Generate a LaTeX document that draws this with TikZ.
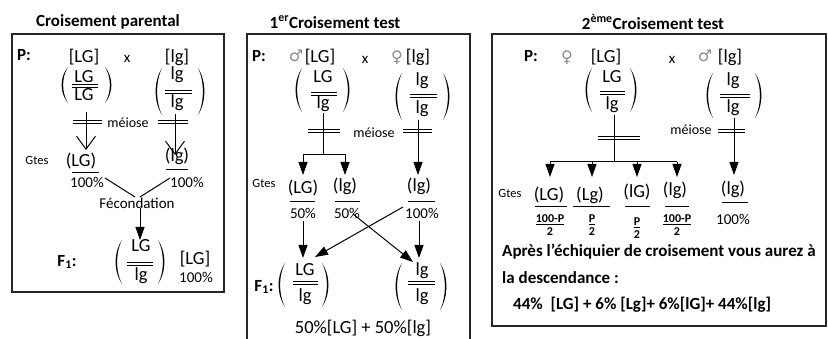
\documentclass[tikz,border=0pt]{standalone}
\usepackage{fontspec}
\setmainfont{Carlito}
\newfontfamily\symfont{DejaVu Sans}
\usetikzlibrary{arrows.meta}
\newcommand\mylp[3]{\fill (#1,#2) .. controls ({#1-8.5},{#2+(#3-#2)*0.28}) and ({#1-8.5},{#3-(#3-#2)*0.28}) .. (#1,#3) .. controls ({#1-6.5},{#3-(#3-#2)*0.28}) and ({#1-6.5},{#2+(#3-#2)*0.28}) .. (#1,#2) -- cycle;}
\newcommand\myrp[3]{\fill (#1,#2) .. controls ({#1+8.5},{#2+(#3-#2)*0.28}) and ({#1+8.5},{#3-(#3-#2)*0.28}) .. (#1,#3) .. controls ({#1+6.5},{#3-(#3-#2)*0.28}) and ({#1+6.5},{#2+(#3-#2)*0.28}) .. (#1,#2) -- cycle;}
\newcommand\dbar[3]{\draw[ln] (#1,#3) -- (#2,#3) (#1,{#3+3}) -- (#2,{#3+3});}
\newcommand\uline[3]{\draw[ln] (#1,#3) -- (#2,#3);}
\begin{document}
\begin{tikzpicture}[x=1pt,y=-1pt,
  every node/.style={inner sep=0pt},
  ttl/.style={font=\fontsize{17}{17}\selectfont\bfseries},
  pb/.style={font=\fontsize{17}{17}\selectfont\bfseries},
  big/.style={font=\fontsize{18.5}{18.5}\selectfont},
  mid/.style={font=\fontsize{15}{15}\selectfont},
  mei/.style={font=\fontsize{14}{14}\selectfont},
  sm/.style={font=\fontsize{12.5}{12.5}\selectfont},
  fr/.style={font=\fontsize{12}{12}\selectfont\bfseries},
  bt/.style={font=\fontsize{17}{17}\selectfont\bfseries, anchor=west},
  sym/.style={font=\fontsize{16}{16}\symfont, text=black!45},
  ln/.style={line width=1pt},
  box/.style={line width=1.3pt, draw=black!85},
  tri/.style={ln, -{Triangle[length=13pt,width=9pt]}},
  vee/.style={ln, -{Straight Barb[length=13pt,width=19pt]}}]
\useasboundingbox (0,0) rectangle (828,339);
\fill[white] (0,0) rectangle (828,339);

% ===== Panel 1 =====
\node[ttl] (t1) at (108,22) {Croisement parental};
\draw[box] (12,34) rectangle (224,292);
\node[pb] (p1) at (24,55) {P:};
\node[big] (p1a) at (84,57) {[LG]};
\node[mid] (p1x) at (127,59) {x};
\node[big] (p1b) at (177,57) {[lg]};
\node[big] (g1at) at (84,77) {LG};
\dbar{72}{98}{85}
\node[big] (g1ab) at (84,95) {LG};
\mylp{68}{67}{103} \myrp{105}{67}{103}
\node[big] (g1bt) at (177,75) {lg};
\dbar{165}{192}{91}
\node[big] (g1bb) at (177,103) {lg};
\mylp{162}{68}{115} \myrp{198}{68}{115}
% meiosis
\dbar{73}{102}{121}
\coordinate (m1a) at (86,112); \coordinate (m1b) at (86,150);
\draw[vee] (m1a) -- (m1b);
\node[mei] (mei1) at (128,123) {méiose};
\dbar{158}{188}{121}
\coordinate (m1c) at (175,114); \coordinate (m1d) at (175,155);
\draw[vee] (m1c) -- (m1d);
% gametes
\node[sm] (gt1) at (37,160) {Gtes};
\node[big] (ga1) at (81,161) {(LG)};
\node[big] (gb1) at (177,156) {(lg)};
\uline{72}{99}{173}
\uline{166}{188}{170}
\node[mid] (pa1) at (87,182) {100\%};
\node[mid] (pb1) at (187,182) {100\%};
\node[mid] (fec) at (137,203) {Fécondation};
\coordinate (fa) at (105,178); \coordinate (fb) at (170,178);
\coordinate (fm1) at (135,197); \coordinate (fm2) at (140,197);
\draw[ln] (fa) -- (fm1);
\draw[ln] (fb) -- (fm2);
\coordinate (fc) at (140,208); \coordinate (fd) at (140,240);
\draw[tri] (fc) -- (fd);
\node[pb] (f1) at (67,262) {F\textsubscript{1}:};
\node[big] (f1t) at (141,246) {LG};
\dbar{127}{153}{263}
\node[big] (f1b) at (141,276) {lg};
\mylp{122}{240}{284} \myrp{158}{240}{284}
\node[big] (f1p) at (195,259) {[LG]};
\node[mid] (f1pc) at (196,277) {100\%};

% ===== Panel 2 =====
\node[ttl] (t2) at (335,22) {1\textsuperscript{er}Croisement test};
\draw[box] (247,345) -- (247,34) -- (470,34) -- (470,345);
\node[pb] (p2) at (259,56) {P:};
\node[sym] (s2a) at (296,56) {♂};
\node[big] (p2a) at (320,57) {[LG]};
\node[mid] (p2x) at (365,60) {x};
\node[sym] (s2b) at (397,58) {♀};
\node[big] (p2b) at (418,57) {[lg]};
\node[big] (g2at) at (323,77) {LG};
\dbar{311}{337}{93}
\node[big] (g2ab) at (323,104) {lg};
\mylp{302}{68}{112} \myrp{343}{68}{112}
\node[big] (g2bt) at (422,81) {lg};
\dbar{410}{437}{95}
\node[big] (g2bb) at (422,109) {lg};
\mylp{402}{73}{120} \myrp{443}{73}{120}
% meiosis
\coordinate (m2a) at (323,113); \coordinate (m2j) at (323,155);
\draw[ln] (m2a) -- (m2j);
\dbar{308}{340}{130}
\node[mei] (mei2) at (374,133) {méiose};
\dbar{403}{432}{130}
\coordinate (m2c) at (418,120); \coordinate (m2d) at (418,175);
\draw[tri] (m2c) -- (m2d);
\coordinate (m2l) at (303,175); \coordinate (m2r) at (345,175);
\draw[tri] (m2j) -| (m2l);
\draw[tri] (m2j) -| (m2r);
% gametes
\node[sm] (gt2) at (264,183) {Gtes};
\node[big] (ga2) at (303,188) {(LG)};
\node[big] (gb2) at (345,186) {(lg)};
\node[big] (gc2) at (419,186) {(lg)};
\uline{290}{315}{202}
\uline{335}{360}{202}
\uline{408}{435}{202}
\node[mid] (pa2) at (303,213) {50\%};
\node[mid] (pb2) at (347,213) {50\%};
\node[mid] (pc2) at (422,213) {100\%};
\coordinate (a1) at (303,221); \coordinate (a2) at (303,258);
\coordinate (b1) at (419,221); \coordinate (b2) at (419,258);
\coordinate (c1) at (403,207); \coordinate (c2) at (315,257);
\coordinate (d1) at (353,214); \coordinate (d2) at (413,262);
\draw[tri] (a1) -- (a2);
\draw[tri] (b1) -- (b2);
\draw[tri] (c1) -- (c2);
\draw[tri] (d1) -- (d2);
\node[pb] (f2) at (264,287) {F\textsubscript{1}:};
\node[big] (f2at) at (305,270) {LG};
\dbar{293}{318}{282}
\node[big] (f2ab) at (305,297) {lg};
\mylp{285}{263}{307} \myrp{322}{263}{307}
\node[big] (f2bt) at (422,271) {lg};
\dbar{408}{435}{282}
\node[big] (f2bb) at (422,297) {lg};
\mylp{402}{263}{310} \myrp{440}{263}{310}
\node[big] (res2) at (363,328) {50\%[LG] + 50\%[lg]};

% ===== Panel 3 =====
\node[ttl] (t3) at (653,22) {2\textsuperscript{ème}Croisement test};
\draw[box] (492,34) rectangle (826,326);
\node[pb] (p3) at (531,56) {P:};
\node[sym] (s3a) at (567,58) {♀};
\node[big] (p3a) at (606,57) {[LG]};
\node[mid] (p3x) at (672,60) {x};
\node[sym] (s3b) at (705,56) {♂};
\node[big] (p3b) at (730,57) {[lg]};
\node[big] (g3at) at (612,77) {LG};
\dbar{600}{625}{92}
\node[big] (g3ab) at (612,105) {lg};
\mylp{592}{68}{112} \myrp{630}{68}{112}
\node[big] (g3bt) at (733,81) {lg};
\dbar{720}{750}{95}
\node[big] (g3bb) at (733,108) {lg};
\mylp{713}{73}{118} \myrp{755}{73}{118}
% meiosis
\coordinate (m3a) at (614,115); \coordinate (m3j) at (614,162);
\draw[ln] (m3a) -- (m3j);
\dbar{598}{640}{137}
\node[mei] (mei3) at (691,130) {méiose};
\dbar{718}{745}{130}
\coordinate (m3c) at (734,118); \coordinate (m3d) at (734,175);
\draw[tri] (m3c) -- (m3d);
\coordinate (h1) at (550,162); \coordinate (h4) at (677,162);
\draw[ln] (h1) -- (h4);
\coordinate (h2) at (592,162); \coordinate (h3) at (637,162);
\coordinate (e1) at (550,177); \coordinate (e2) at (592,177);
\coordinate (e3) at (637,177); \coordinate (e4) at (677,177);
\draw[tri] (h1) -- (e1);
\draw[tri] (h2) -- (e2);
\draw[tri] (h3) -- (e3);
\draw[tri] (h4) -- (e4);
% gametes
\node[sm] (gt3) at (510,193) {Gtes};
\node[big] (ga3) at (549,195) {(LG)};
\node[big] (gb3) at (590,195) {(Lg)};
\node[big] (gc3) at (637,192) {(lG)};
\node[big] (gd3) at (675,190) {(lg)};
\node[big] (ge3) at (733,189) {(lg)};
\uline{535}{567}{207}
\uline{573}{610}{207}
\uline{625}{650}{207}
\uline{665}{689}{207}
\uline{722}{748}{203}
\node[fr] (fa3) at (550,220) {\underline{100-P}};
\node[fr] (fa3d) at (550,232) {2};
\node[fr] (fb3) at (592,220) {\underline{P}};
\node[fr] (fb3d) at (592,232) {2};
\node[fr] (fc3) at (637,223) {\underline{P}};
\node[fr] (fc3d) at (637,235) {2};
\node[fr] (fd3) at (677,220) {\underline{100-P}};
\node[fr] (fd3d) at (677,232) {2};
\node[mid] (pe3) at (733,219) {100\%};
\node[bt] (l1) at (502,252) {Après l’échiquier de croisement vous aurez à};
\node[bt] (l2) at (502,278) {la descendance :};
\node[bt] (l3) at (513,305) {44\%~~[LG] + 6\% [Lg]+ 6\%[lG]+ 44\%[lg]};
\end{tikzpicture}
\end{document}
